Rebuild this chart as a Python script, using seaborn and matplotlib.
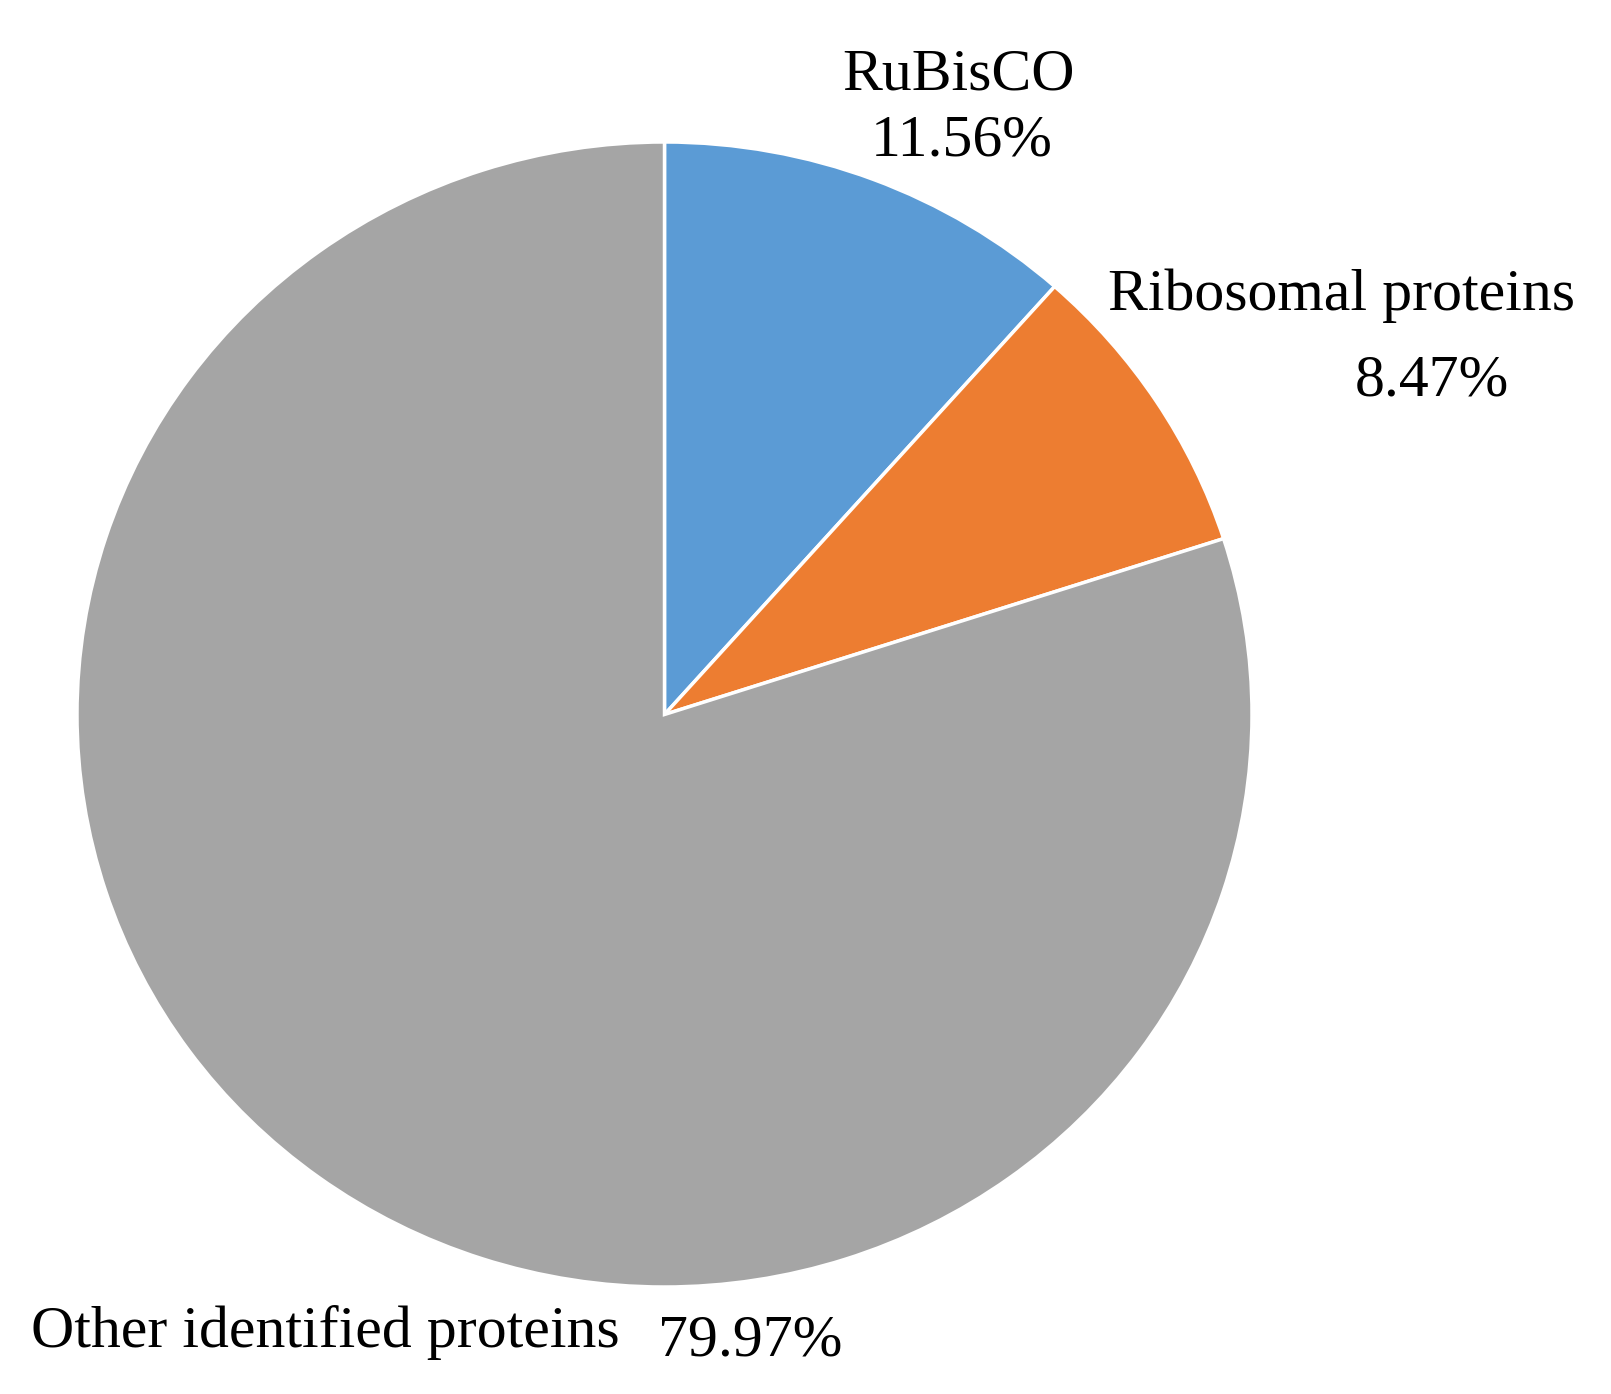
import matplotlib
matplotlib.use("Agg")
import matplotlib.pyplot as plt
import seaborn as sns

sns.set_style("white")
plt.rcParams['font.family'] = ['Liberation Serif', 'DejaVu Serif']

categories = ["RuBisCO", "Ribosomal proteins", "Other identified proteins"]
values = [11.56, 8.47, 79.97]
pct_labels = ["11.56%", "8.47%", "79.97%"]
colors = ["#5B9BD5", "#ED7D31", "#A5A5A5"]

W, H = 1611, 1394
fig = plt.figure(figsize=(W / 100, H / 100), dpi=100)
fig.patch.set_facecolor("white")

# pie bounding box in pixels
left_px, right_px, top_px, bottom_px = 77, 1252, 142, 1287
ax = fig.add_axes([left_px / W, 1 - bottom_px / H,
                   (right_px - left_px) / W, (bottom_px - top_px) / H])
ax.pie(values, colors=colors, startangle=90, counterclock=False, radius=1,
       wedgeprops=dict(edgecolor="white", linewidth=2.5))
ax.set_aspect("auto")
ax.set_xlim(-1.0, 1.0)
ax.set_ylim(-1.0, 1.0)
ax.axis("off")

fs = 43

def put(x, y, s, ha="center"):
    fig.text(x / W, 1 - y / H, s, ha=ha, va="baseline", fontsize=fs, color="black")

put(958, 89, categories[0])
put(962, 156, pct_labels[0])
put(1342, 310, categories[1])
put(1432, 396, pct_labels[1])
put(31, 1347, categories[2], ha="left")
put(658, 1355, pct_labels[2], ha="left")

fig.savefig("out.png", dpi=100, facecolor="white")
